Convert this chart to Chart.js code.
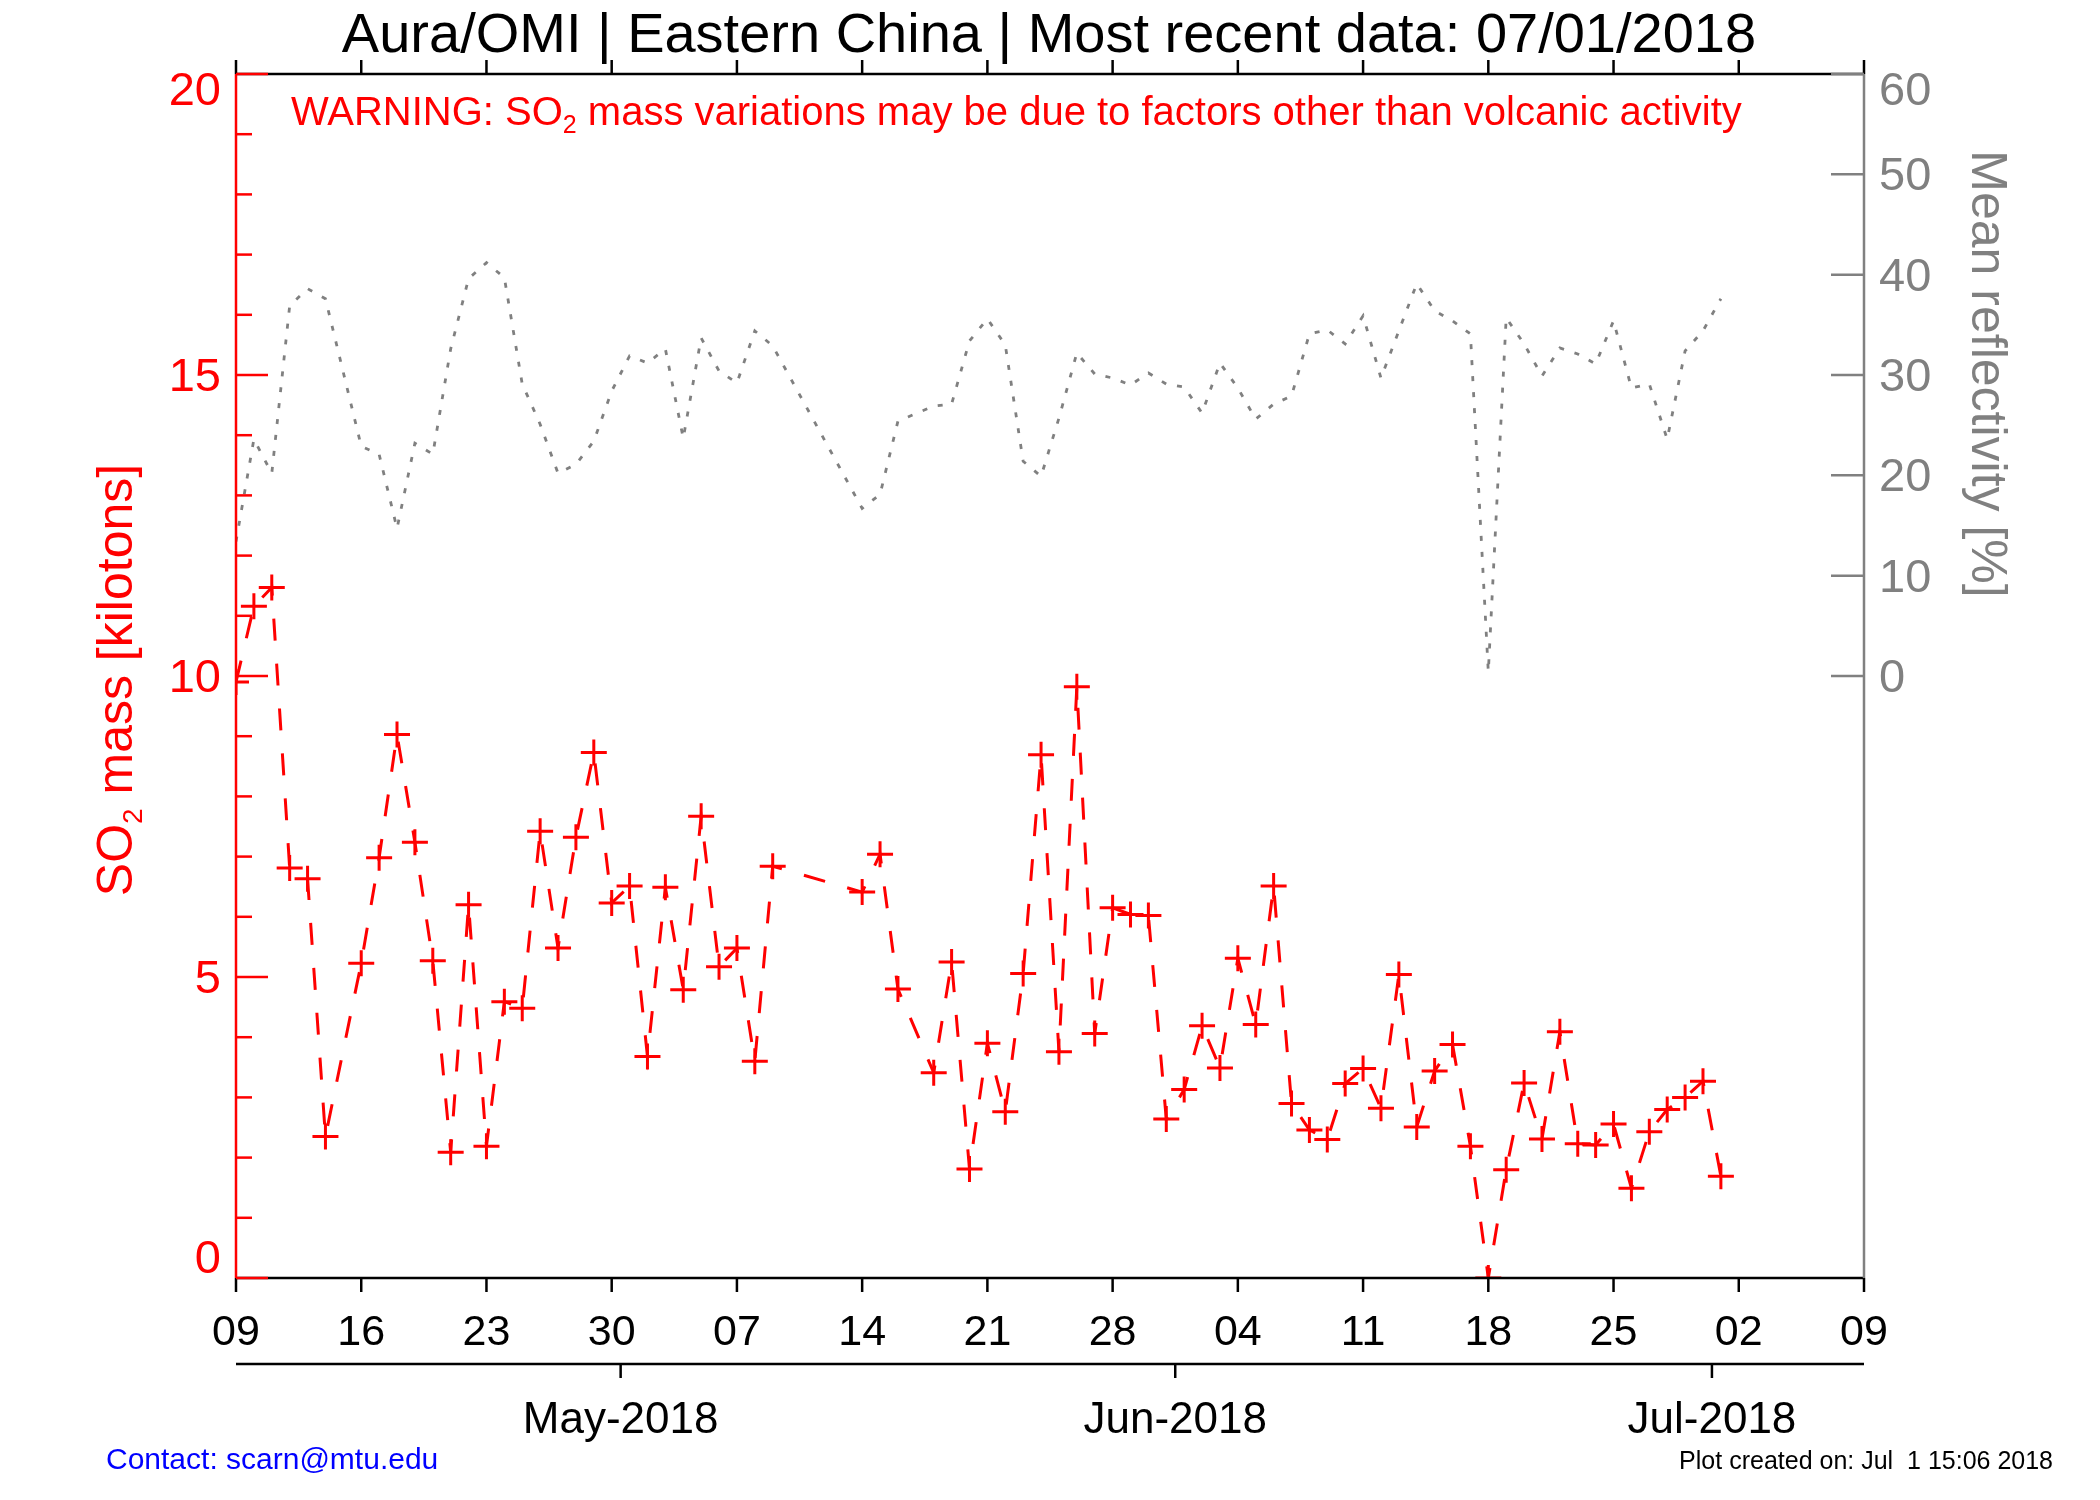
<!DOCTYPE html>
<html>
<head>
<meta charset="utf-8">
<title>Aura/OMI | Eastern China</title>
<script src="https://cdn.jsdelivr.net/npm/chart.js@4.4.1/dist/chart.umd.min.js"></script>
<style>
  html, body { margin: 0; padding: 0; background: #ffffff; }
  canvas { display: block; }
</style>
</head>
<body>
<canvas id="myChart" width="2100" height="1500"></canvas>
<script>
// days counted from 09 Apr 2018
let so2Days = [0, 1, 2, 3, 4, 5, 7, 8, 9, 10, 11, 12, 13, 14, 15, 16, 17, 18, 19, 20,
  21, 22, 23, 24, 25, 26, 27, 28, 29, 30, 35, 36, 37, 39, 40, 41, 42, 43, 44, 45,
  46, 47, 48, 49, 50, 51, 52, 53, 54, 55, 56, 57, 58, 59, 60, 61, 62, 63, 64, 65,
  66, 67, 68, 69, 70, 71, 72, 73, 74, 75, 76, 77, 78, 79, 80, 81, 82, 83]
let so2Mass = [9.9, 11.16, 11.47, 6.81, 6.63, 2.35, 5.23, 6.98, 9.03, 7.24, 5.27, 2.09, 6.2, 2.19, 4.59, 4.48, 7.42, 5.48, 7.32, 8.73,
  6.23, 6.51, 3.68, 6.49, 4.79, 7.67, 5.17, 5.48, 3.6, 6.84, 6.41, 7.04, 4.8, 3.41, 5.25, 1.81, 3.9, 2.76, 5.06, 8.69,
  3.76, 9.82, 4.06, 6.15, 6.04, 6.02, 2.64, 3.13, 4.19, 3.49, 5.31, 4.21, 6.51, 2.9, 2.46, 2.3, 3.23, 3.48, 2.82, 5.04,
  2.51, 3.44, 3.88, 2.19, 0.0, 1.8, 3.24, 2.31, 4.09, 2.23, 2.21, 2.56, 1.49, 2.43, 2.8, 3.0, 3.27, 1.69]
let reflectivity = [13.4, 23.6, 20.2, 36.9, 38.6, 37.6, 22.9, 22.1, 14.7, 23.2, 22.1, 32.6, 39.6, 41.2, 39.7, 29.1, 25.1, 20.2, 21.1, 23.4,
  28.4, 31.9, 31.2, 32.6, 23.7, 33.7, 30.4, 29.2, 34.4, 32.9, 16.7, 18.1, 25.4, 26.9, 27.1, 33.4, 35.6, 33.0, 21.4, 19.9,
  25.7, 32.2, 30.1, 29.7, 29.0, 30.2, 29.1, 28.8, 26.2, 31.2, 28.7, 25.6, 27.1, 27.9, 34.1, 34.5, 33.1, 35.9, 29.7, 34.4,
  39.1, 36.4, 35.4, 34.1, 0.4, 35.7, 33.1, 29.9, 32.7, 32.1, 31.1, 35.4, 28.7, 29.1, 23.6, 32.4, 34.4, 37.6]

let weekTickDays = [0, 7, 14, 21, 28, 35, 42, 49, 56, 63, 70, 77, 84, 91]
let weekTickLabels = ["09", "16", "23", "30", "07", "14", "21", "28", "04", "11", "18", "25", "02", "09"]
let monthTickDays = [21.5, 52.5, 82.5]
let monthLabels = ["May-2018", "Jun-2018", "Jul-2018"]
let massTicks = [0, 5, 10, 15, 20]
let reflTicks = [0, 10, 20, 30, 40, 50, 60]

const RED = "#ff0000"
const GREY = "#808080"
const FACE = '"Liberation Sans", Arial, Helvetica, sans-serif'
function font(px) { return px + "px " + FACE }

function line(ctx, x1, y1, x2, y2, color, w) {
  ctx.strokeStyle = color
  ctx.lineWidth = w
  ctx.beginPath()
  ctx.moveTo(x1, y1)
  ctx.lineTo(x2, y2)
  ctx.stroke()
}

// parts: [text, size, baseline shift]
function richText(ctx, parts, x, y, centred) {
  let w = 0
  parts.forEach(p => { ctx.font = font(p[1]); w += ctx.measureText(p[0]).width })
  let cx = centred ? x - w / 2 : x
  ctx.textAlign = "left"
  parts.forEach(p => {
    ctx.font = font(p[1])
    ctx.fillText(p[0], cx, y + (p[2] || 0))
    cx += ctx.measureText(p[0]).width
  })
}

const axesPlugin = {
  id: "idlAxes",
  afterDatasetsDraw(chart) {
    const { ctx, chartArea: a, scales } = chart
    const x = scales.x, y = scales.y, y2 = scales.y2
    ctx.save()
    ctx.lineCap = "butt"
    ctx.textBaseline = "alphabetic"

    // top and bottom frame with week ticks
    line(ctx, a.left, a.top, a.right, a.top, "#000", 2.5)
    line(ctx, a.left, a.bottom, a.right, a.bottom, "#000", 2.5)
    ctx.fillStyle = "#000"
    ctx.font = font(43)
    ctx.textAlign = "center"
    weekTickDays.forEach((d, i) => {
      let px = x.getPixelForValue(d)
      line(ctx, px, a.bottom, px, a.bottom + 14, "#000", 2.5)
      line(ctx, px, a.top, px, a.top - 14, "#000", 2.5)
      ctx.fillText(weekTickLabels[i], px, a.bottom + 67)
    })

    // month axis
    let my = a.bottom + 86
    line(ctx, a.left, my, a.right, my, "#000", 2.5)
    ctx.font = font(44)
    monthTickDays.forEach((d, i) => {
      let px = x.getPixelForValue(d)
      line(ctx, px, my, px, my + 14, "#000", 2.5)
      ctx.fillText(monthLabels[i], px, my + 69)
    })

    // left axis, SO2 mass
    line(ctx, a.left, a.top, a.left, a.bottom, RED, 2.5)
    for (let v = y.min; v <= y.max; v++) {
      let py = y.getPixelForValue(v)
      line(ctx, a.left, py, a.left + (v % 5 === 0 ? 32 : 16), py, RED, 2.5)
    }
    ctx.fillStyle = RED
    ctx.font = font(47)
    ctx.textAlign = "right"
    massTicks.forEach(v => {
      let py = y.getPixelForValue(v)
      let base = Math.min(Math.max(py + 16, a.top + 31), a.bottom - 5)
      ctx.fillText(String(v), a.left - 15, base)
    })

    // right axis, reflectivity
    line(ctx, a.right, a.top, a.right, a.bottom, GREY, 2.5)
    ctx.fillStyle = GREY
    ctx.textAlign = "left"
    reflTicks.forEach(v => {
      let py = y2.getPixelForValue(v)
      line(ctx, a.right - 33, py, a.right, py, GREY, 2.5)
      let base = Math.max(py + 16, a.top + 31)
      ctx.fillText(String(v), a.right + 15, base)
    })
    ctx.restore()
  },
  afterDraw(chart) {
    const { ctx } = chart
    ctx.save()
    ctx.textBaseline = "alphabetic"

    ctx.fillStyle = "#000"
    ctx.font = font(56)
    ctx.textAlign = "center"
    ctx.fillText("Aura/OMI | Eastern China | Most recent data: 07/01/2018", 1049, 52)

    ctx.fillStyle = RED
    richText(ctx, [["WARNING: SO", 40], ["2", 25, 8],
      [" mass variations may be due to factors other than volcanic activity", 40]], 291, 125, false)

    // axis titles
    ctx.save()
    ctx.translate(132, 680)
    ctx.rotate(-Math.PI / 2)
    ctx.fillStyle = RED
    richText(ctx, [["SO", 50], ["2", 28, 10], [" mass [kilotons]", 50]], 0, 0, true)
    ctx.restore()

    ctx.save()
    ctx.translate(1972, 374)
    ctx.rotate(Math.PI / 2)
    ctx.fillStyle = GREY
    richText(ctx, [["Mean reflectivity [%]", 50]], 0, 0, true)
    ctx.restore()

    ctx.fillStyle = "#0000ff"
    ctx.font = font(30)
    ctx.textAlign = "left"
    ctx.fillText("Contact: scarn@mtu.edu", 106, 1469)

    ctx.fillStyle = "#000"
    ctx.font = font(25)
    ctx.textAlign = "right"
    ctx.fillText("Plot created on: Jul  1 15:06 2018", 2053, 1469)
    ctx.restore()
  }
}

let ctx = document.getElementById("myChart").getContext("2d")

let myChart = new Chart(ctx, {
  type: "line",
  data: {
    datasets: [
      {
        label: "Mean reflectivity",
        data: so2Days.map((d, i) => ({ x: d, y: reflectivity[i] })),
        yAxisID: "y2",
        borderColor: GREY,
        borderWidth: 2.8,
        borderDash: [5, 11],
        pointRadius: 0,
        tension: 0,
        clip: 0,
      },
      {
        label: "SO2 mass",
        data: so2Days.map((d, i) => ({ x: d, y: so2Mass[i] })),
        yAxisID: "y",
        borderColor: RED,
        borderWidth: 3,
        borderDash: [22, 23],
        pointStyle: "cross",
        pointRadius: 13,
        pointBorderWidth: 3,
        pointBorderColor: RED,
        tension: 0,
        clip: 0,
      },
    ],
  },
  options: {
    responsive: false,
    animation: false,
    devicePixelRatio: 1,
    events: [],
    layout: { padding: { left: 236, right: 236, top: 74, bottom: 222 } },
    scales: {
      x: { type: "linear", min: 0, max: 91, display: false },
      y: { type: "linear", min: 0, max: 20, display: false },
      y2: { type: "linear", min: -60, max: 60, display: false },
    },
    plugins: {
      legend: { display: false },
      tooltip: { enabled: false },
      title: { display: false },
    },
  },
  plugins: [axesPlugin],
})
</script>
</body>
</html>
